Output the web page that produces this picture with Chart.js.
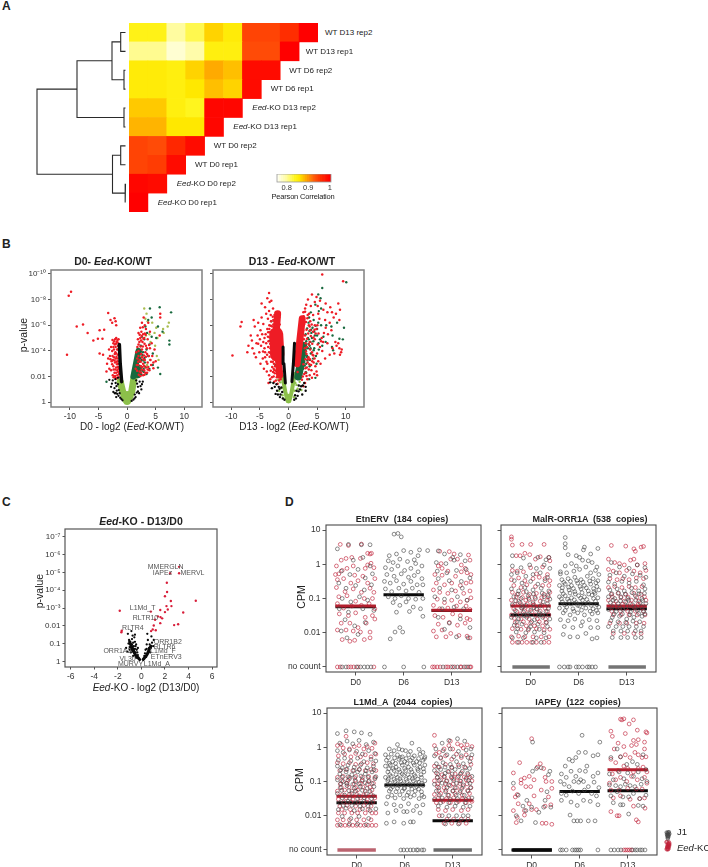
<!DOCTYPE html>
<html lang="en">
<head>
<meta charset="UTF-8">
<title>Eed-KO repeat expression</title>
<style>
  body { margin: 0; background: #fff; font-family: 'Liberation Sans', Arial, sans-serif; color: #222; }
  #page { position: relative; width: 708px; height: 867px; overflow: hidden; }
  canvas { position: absolute; }
  .t { position: absolute; white-space: pre; line-height: 1; transform: translate(-50%, -50%); }
  .l { position: absolute; white-space: pre; line-height: 1; transform: translateY(-50%); }
  .v { position: absolute; white-space: pre; line-height: 1; transform: translate(-50%, -50%) rotate(-90deg); }
  .b { font-weight: bold; }
</style>
</head>
<body>
<div id="page"></div>
<script src="https://cdn.jsdelivr.net/npm/chart.js"></script>
<script>
// ---------- panel A
const colNames = ['KO D0 r1', 'KO D0 r2', 'WT D0 r1', 'WT D0 r2', 'KO D13 r1', 'KO D13 r2', 'WT D6 r1', 'WT D6 r2', 'WT D13 r1', 'WT D13 r2'];
const corrRows = [
  [.845, .845, .80, .825, .87, .855, .945, .945, .96, 1],
  [.805, .805, .775, .795, .85, .85, .94, .94, 1],
  [.855, .855, .85, .87, .89, .88, .99, .99],
  [.855, .855, .85, .86, .88, .87, .99],
  [.875, .875, .85, .84, .995, .995],
  [.885, .885, .86, .86, .995],
  [.945, .94, .965, .99],
  [.945, .95, .99],
  [.995, .99],
  [1]
];
const rowLabels = ['WT D13 rep2', 'WT D13 rep1', 'WT D6 rep2', 'WT D6 rep1', '<i>Eed</i>-KO D13 rep2', '<i>Eed</i>-KO D13 rep1', 'WT D0 rep2', 'WT D0 rep1', '<i>Eed</i>-KO D0 rep2', '<i>Eed</i>-KO D0 rep1'];
const dendroBranches = [
  [3.5, .5, 8.3, .5, 8.3, 1.5, 3.5, 1.5],
  [3.5, 2.5, 5, 2.5, 5, 3.5, 3.5, 3.5],
  [8.3, 1, 17, 1, 17, 3, 5, 3],
  [3.5, 4.5, 5, 4.5, 5, 5.5, 3.5, 5.5],
  [17, 2, 52, 2, 52, 5, 5, 5],
  [3.5, 6.5, 8.3, 6.5, 8.3, 7.5, 3.5, 7.5],
  [3.5, 8.5, 4, 8.5, 4, 9.5, 3.5, 9.5],
  [8.3, 7, 16.5, 7, 16.5, 9, 4, 9],
  [52, 3.5, 92, 3.5, 92, 8, 16.5, 8]
];
const colourbarSteps = [.76, .77, .78, .79, .80, .81, .82, .83, .84, .85, .86, .87, .88, .89, .90, .91, .92, .93, .94, .95, .96, .97, .98, .99, 1];

// ---------- panel B (log2 fold change, -log10 p)
const volTicksX = [-10, -5, 0, 5, 10];
const volTicksY = [0, 2, 4, 6, 8, 10];
const volTickNames = ['1', '0.01', '10⁻⁴', '10⁻⁶', '10⁻⁸', '10⁻¹⁰'];
const b1Red = [-9.8,8.6,-10.2,8.3,-8.8,5.9,-7.7,6.05,-6.9,5.4,-5.9,4.8,-4.8,5.6,-4,5.65,-5.1,4.95,-4.3,4.95,-10.5,3.7,-4.8,3.8,-4.2,3.7,-3.3,6.95,-2.9,6.4,-2.2,6.55,-2,6.3,-1.9,6,-2.6,6.2,
 -1.5,4.9,-1.8,4.7,-2.1,4.9,-2.4,4.6,-2.8,4.3,-2,4.3,-1.6,4.4,-2.6,4,-3,3.6,-2.3,3.5,-1.9,3.8,-1.7,3.4,-3.3,3.4,-2.7,3.2,-2.1,3.1,-1.6,3,-3.5,3,-2.4,2.8,-1.9,2.7,-1.5,2.6,-2.8,2.5,-2.2,2.3,-1.7,2.1,-2.5,2.1,-2,1.9,-3.1,2.6,-1.4,2.2,-2.3,4.1,-2,3.4,-1.7,2.5,
 -1.7,4.85,-1.95,4.55,-2.25,4.75,-2.55,4.85,-1.75,4.1,-2.15,3.75,-2.45,3.3,-1.85,3.15,-2.6,2.95,-2.05,2.55,-1.55,2.35,-2.35,1.95,-1.85,1.85,-2.9,3.35,-3.15,4.1,-3.6,2.4,-1.6,3.7,-2.4,4.3,
 -1.65,4.65,-1.9,5,-2.15,4.5,-1.55,4.1,-1.85,3.55,-2.2,3.25,-1.6,2.75,-1.9,2.3,-2.35,2.55,-1.75,2.95,-2.05,3.9,-2.55,3.6,-1.65,3.2,-2.1,2.05,-1.5,1.95,
 2.9,6.6,2.6,6.2,2.3,5.8,3.1,6,2,5.4,2.5,5.5,3.3,5.7,3.7,6.2,4,5.5,2.8,5.3,1.9,4.9,2.3,5,3,5,3.6,4.9,4.3,4.6,5.8,6.9,5.8,6.6,5.7,5.2,2,4.5,2.7,4.7,3.3,4.4,4,4.2,4.8,4.1,2,4,2.6,4.1,3.2,3.9,3.8,3.6,4.4,3.6,5,3.2,2.6,3.5,3.1,3.3,3.6,3.1,4.2,2.9,2.2,3.3,2.8,3,3.3,2.7,3.9,2.5,1.8,3.4,2.4,2.8,3,2.5,3.5,2.3,1.7,2.9,2.2,2.4,2.8,2.1,1.5,2.6,1.6,3.9,2,3.6,1.8,4.3,2.5,2.3,4.6,3.1,
 2.2,5.25,2.45,4.8,2.75,5.85,3.05,4.55,3.45,4.2,2.95,3.65,3.5,3.75,2.4,3.15,3,2.85,3.7,2.75,4.1,3.3,2.55,2.55,3.2,2.3,2.05,2.15,1.9,2.9,2.75,4.35,3.25,5.25,3.85,4.45,
 2.15,4.7,2.35,4.35,2.55,5.15,2.85,4.95,3.1,5.35,2.45,3.75,2.85,3.35,3.3,3.55,3.6,2.55,2.7,2.75,2.35,2.05,3.05,2.15,1.75,2.45,1.95,3.15,4.6,2.65];
const b1DarkGreen = [5.7,7.4,4,7.3,3.7,6.4,4.3,6.6,7.7,7,7.4,4.8,7.4,4.5,6.2,5.5,5.4,5.9,3.2,5.9,3.5,5.4,4.3,5.1,5.1,5,3,4.9,2.6,5.1,3.9,4.5,2.4,4.4,3.4,4.1,4.5,3.8,2.8,3.9,3.7,3.6,5.4,2.7,2.5,3.3,3.1,3.1,3.9,2.6,4.5,2.9,2.3,2.8,2.9,2.6,3.4,2.2,5.8,2.2,-3.6,1.6,2.65,3.7,3.05,3.45,2.45,3.95,2.95,2.35,2.5,2.15,2.15,3.15,3.2,2.75,2.1,2.55,2.35,3.45,2.7,2.45,2.25,3.75,1.95,3.55,2.85,3.25];
const b1Olive = [3,7.3,3.4,6.9,3.2,6.5,3.6,6.3,4.4,6.2,5.1,5.8,4.8,5.4,6.3,5.7,7.1,5.9,7.3,6.2,6.4,5.4,5.3,5,3.9,5.3,3.3,5.2,4.9,4.4,4.1,4.7,5.2,3.6,4,3.3,3.5,2.9,2.7,3.6,2.2,4.1,5.5,3.3];
const b1Black = [-2.5,1.7,-2.8,1.2,-2.2,1.1,-2,1.5,-2.4,.8,-1.8,.9,-1.6,1.4,-1.5,.5,-1.9,.4,-1.2,.35,-1.3,.7,-1,.25,-.8,.15,-1.6,1.9,2.6,1.4,2.2,1.6,2.5,1,1.9,1.2,2.1,.7,1.7,.75,1.5,.4,1.3,.3,1.1,.2,1.6,1.7,.8,.1,-3.1,1.75,-2.15,.7,-2.65,1.45,-1.85,1.25,-1.7,.65,-1.45,.95,-1.95,.7,2.35,1.25,1.9,.85,1.75,1.45,1.35,.6,2.75,1.6,-2.05,1.8];
const b1BlackBands = [[-.95,1.6,-1.2,3,-1.35,4.5]];
const b1LightBands = [[-.2,.15,-.75,.8,-1.2,1.6], [.2,.15,.8,.8,1.2,1.9], [0,.05,0,.6]];
const b1GreenBands = [[1.1,2,1.55,3,2,4], [1.9,2.1,2.1,2.7]];
const b2Red = [-3.4,8.5,-9.8,3.65,-8.4,5.9,-8.2,6.25,-4.7,7.7,-4.1,7.4,-3.7,8.1,-3.3,7.8,-3,7.9,-2.7,7.3,-2.2,7,-6.1,6.4,-5.9,5.9,-5.3,6.2,-6.6,5.2,-6.4,4.8,-7,4.4,-7.2,3.9,-6.3,4.2,-6,3.8,-5.6,4.6,-5.4,5.2,-5.7,3.5,-5.1,3.9,-4.9,5.6,-4.7,6.6,-4.5,3.4,-4.8,4.4,-4.4,4.7,-4.4,6.1,-3.9,6.9,-3.6,6.5,-3.4,7.1,-4.9,3,-4.3,2.6,-4.1,3.5,-3.8,2.4,-3.7,3,-3.4,2.1,-3.4,3.9,-3.1,6.8,-2.6,2,-2.9,1.95,-2.2,1.7,-2.5,1.6,-4,5.3,-3.7,5.7,-4.2,4.2,-5,4.9,-4.6,5.3,-2,6.5,-1.8,5.8,-1.6,5.2,-1.5,4.6,-1.5,4,-1.8,6.2,-3.2,1.8,-3.5,1.5,-1.9,1.45,-1.4,1.8,
 -3.05,6.3,-2.75,6.65,-2.45,6.3,-3.35,6,-3.6,5.1,-3.25,5.45,-3.9,4.6,-3.55,4.3,-3.3,3.55,-3.05,3.15,-2.85,2.75,-3.1,2.45,-2.7,2.35,-2.4,2.25,-2.95,4.75,-3.15,4.2,-3.75,3.7,-4.45,3.95,-4.2,5,-5.3,4.55,-2.65,6.05,-2.3,6.6,-2,2.25,-1.65,1.7,-1.8,2.2,-2.35,2.8,-2.55,3,-1.35,2.4,-1.25,3,-1.3,3.55,
 -3.35,5.7,-3.1,5.95,-2.85,5.9,-3.5,4.75,-3.2,4.55,-3.3,5.05,-3.05,5.2,-3.05,4.35,-2.95,3.95,-3.2,3.85,-2.85,3.5,-3,3.7,-2.75,3.15,-2.55,3.35,-2.6,2.6,-2.45,2.5,-2.2,2.45,-2.05,1.95,-1.2,3.85,-1.25,4.4,-1.35,5.1,-1.5,5.65,-1.55,6.05,-1.65,6.6,-2.45,6.8,-2.65,6.4,-3.55,5.45,-4.1,3.9,-3.85,3.15,
 5.9,9.95,9.55,9.43,4.1,8.4,4.9,8.2,4.6,7.8,5.1,7.5,3.4,8,3.1,7.6,2.9,7.3,2.6,7,3.9,7.5,5.5,7.9,6.5,7.7,7.3,7.4,7.6,7,8.7,7.7,9,7.2,8.3,6.9,6.1,7.2,6.8,7,3.6,6.9,2.3,6.6,4.3,6.8,7.9,6.6,8.9,6.4,7.2,6.2,6.4,6.4,5.4,6.5,5.2,6.9,3.8,6.3,8.2,4.7,8.4,4.4,8.7,4.6,8.9,4.2,9.3,4.1,7.7,4.2,7.2,3.7,8,3.8,9.2,3.9,9,3.7,6.8,4.6,6.2,5.4,6.9,5.3,7.5,5.6,5.9,4,5.5,4.3,6.4,3.4,5,3.8,5.2,3.2,5.6,3,4.7,2.8,4.9,2.4,5,2.1,4.4,3.1,4.5,2.2,4,2.5,4.1,1.9,3.7,2.1,3.3,1.8,3.2,2.7,2.9,1.5,3,2.3,2.6,1.25,2.5,2,3.5,3.5,3.2,4.3,2.9,5.2,2.7,4.9,2.2,5.9,1.9,5.3,3.7,4.7,4.1,3.9,4.6,4.9,4.9,5.7,4.3,5.5,3.8,5.6,4.6,6,5.8,5,6.5,5.8,
 3.3,6.55,3.05,6.25,2.75,6.1,2.55,5.6,3.55,6,4.05,6.05,3.15,5.65,3.45,5.35,3.9,5.15,4.35,5.05,4.75,5.35,5.25,5.35,3.25,4.95,3.55,4.5,4.15,4.55,3,4.6,2.85,4.2,3.15,3.75,3.75,3.35,3.35,3.1,2.95,2.65,4.15,3.2,4.35,3.65,2.75,2.2,3.55,2.55,3.95,2.9,2.95,3.35,5.7,4.75,5.1,4.5,6.05,4.7,
 2.9,7.05,2.65,6.7,3.35,6.8,2.05,5.75,2.35,5.45,3.7,5.9,4.55,5.65,5.05,6,3.05,3.95,3.4,3.35,3.65,2.95,2.6,2.95,3.15,2.05,2.35,1.75,3.8,4.1,4.2,3.7,4.55,3.4,1.75,3,1.55,3.35,1.6,2.35];
const b2DarkGreen = [10.1,9.35,5.9,8.9,5.2,8.4,5.6,8.1,5.7,7.3,5.3,7.1,8.5,6.2,7.5,5.9,7.7,5.2,9.7,5.8,9.5,4.9,8.9,4.95,7.6,4.3,7.8,4.05,4.7,7.6,3.9,7,4.4,6.4,3.5,6.2,5.7,6,6.6,6,5,5.7,3,5.3,4,5.4,4.6,5.2,6.1,5.1,3.4,5,5.5,4.9,6.5,4.7,2.7,4.5,3.7,4.4,4.5,4.2,5.3,4.1,3,4,3.9,3.8,4.8,3.6,5.9,4.4,3.3,3.5,4.3,3.4,2.6,3.4,3.1,3,3.7,2.8,4.7,1.9,4.9,3,3.1,2.3,3.6,1.8,-1.5,3.5,-2.1,4.9,-2.7,5.6,-3,6.3,-1.2,2.4,-1.8,2.8,-2.4,4.1,
 3.25,5.75,3.65,5.55,4.2,5.8,4.75,5.95,5.2,6.2,3.1,4.75,3.55,4.9,4.1,5,4.35,4.75,5,5.2,5.25,4.6,2.9,3.7,3.4,4.2,3.85,4.2,4.4,4.05,2.75,3.15,3.3,3.25,3.75,3.3,-2.3,2.9,-2.5,5.2,-3.3,4.8,
 2.85,2.85,3,2.35,2.55,2.6,3.25,3.6,2.95,4.35,3.5,4.55,3.85,4.7,4.5,5.5,3.95,5.65,3.6,6.6];
const b2Black = [-3.2,1.55,-2.9,1.1,-2.4,1.2,-2,.9,-1.7,1.2,-1.4,.6,-1,.3,-1.1,.8,-.7,.2,-1.5,.4,3,.9,2.4,.6,2,1,1.6,.5,1.3,.3,1.4,.9,1,.2,3,1.2,2.5,1.3,-2.1,1.4,-2.65,1.5,-1.85,.6,-1.25,1.15,-1.55,1.05,-2.25,.65,1.75,.85,2.2,1.25,1.15,.55,1.8,1.3,2.75,1.5];
const b2Light = [-1.45,1.55,-1.2,1.1,-1.65,.9,-1.05,.55,-1.8,1.75,-1.3,2.4,1.4,1.35,1.6,1.05,1.2,1.5,1.95,1.6,1.45,2.2,1.05,.9,-1.5,2.1,-.9,.3,.95,.4,2.25,.95];
const b2BlackBands = [[-.55,1.5,-.8,3,-.95,4.3], [.6,1.6,.85,3,1.05,4.6]];
const b2LightBands = [[-.15,.1,-.55,.8,-.85,1.5,-1,2], [.15,.1,.55,.8,.85,1.6,1,2.2], [0,.05,0,.5]];
const b2RedBig = [[-1.95,3.7,-2.15,5.3]];
const b2RedMid = [[-1.55,2.1,-1.75,3.3], [-2.15,5.5,-1.9,6.9], [1.5,3,1.9,4.5,2.4,6.5]];
const b2GreenBands = [[1.7,2,2.2,3.2,2.55,4.4]];

// ---------- panel C
const cTicksX = [-6, -4, -2, 0, 2, 4, 6];
const cTicksY = [0, 1, 2, 3, 4, 5, 6, 7];
const cTickNames = ['1', '0.1', '0.01', '10⁻³', '10⁻⁴', '10⁻⁵', '10⁻⁶', '10⁻⁷'];
const cRed = [3.2,5.32,3.2,4.96,2.44,4.96,2.16,4.42,2.18,3.9,2,3.66,2.5,3.4,4.62,3.41,2.55,3.11,2.13,3.11,2.24,2.92,1.6,2.89,2,2.77,3.55,2.75,1.4,2.53,1.62,2.49,1.76,2.42,1.16,2.34,1.6,2.15,2.78,2.04,3.12,2.09,1.05,2.02,.96,1.79,.82,1.7,1.22,1.75,.8,2.8,-1.84,2.85,-1.67,1.72,-1.7,1.64];
const cBlack = [-1.15,1.55,-.85,1.7,-.75,1.45,-1.05,1.2,-.8,1.25,-.6,1.35,-1.1,1,-.95,.95,-.7,1.05,-.55,1.1,-1,.8,-.75,.8,-.5,.85,-.85,.65,-.65,.6,-.4,.65,-.9,.5,-.6,.45,-.3,.35,-.7,.3,-.45,.2,-.55,1.5,-1.3,.75,-1.2,.55,.5,1.55,.85,1.4,.55,1.2,.9,1.05,.7,.95,.45,.95,.8,.75,.35,.65,.6,.55,.75,.5,.25,.3,.4,.25,1,.85,1.05,1.2,-.95,1.1,-1,.65,-.8,.95,-.65,.85,-.9,.75,-.55,.7,-.75,.55,-.5,.5,-.45,.95,-.35,.5,-.25,.2,-.3,.75,.3,.45,.5,.4,.45,.7,.65,.75,.2,.15];
const cBlackBands = [[-.15,.1,-.5,.35,-.85,.85,-1,1.1], [.15,.1,.45,.35,.8,.85]];
const cLabelNames = ['MMERGLN', 'IAPEz', 'MERVL', 'L1Md_T', 'RLTR10', 'RLTR4', 'ORR1B2', 'RLTR6', 'L1Md_F', 'ETnERV3', 'ORR1A2', 'VL30', 'MURVY', 'L1Md_A'];
const cLabelX = [.54, .96, 3.32, -.99, -.74, -1.64, 1.05, 1.05, .74, .79, -3.23, -1.87, -1.99, .2];
const cLabelY = [5.32, 4.96, 4.96, 3, 2.42, 1.85, 1.09, .81, .55, .23, .55, .15, -.15, -.13];

// ---------- panel D (x: day slot 1-3 with jitter, y: log10 CPM, -3 = no count)
const dTicksX = [1, 2, 3];
const dayNames = ['D0', 'D6', 'D13'];
const dTicksY = [-3, -2, -1, 0, 1];
const dTickNames = ['no count', '0.01', '0.1', '1', '10'];
const noCount = -3;

const etnJ1 = [.62,.45,.85,.58,1.12,.57,1.3,.57,.95,.12,1.15,.2,1.3,-.05,.7,-.2,.88,-.3,1.05,-.15,1.2,-.4,1.35,-.28,.65,-.55,.8,-.7,1,-.62,1.18,-.75,1.33,-.6,.72,-1,.9,-1.1,1.08,-.95,1.25,-1.05,.66,-1.3,.85,-1.4,1.15,-1.3,1.38,-1.35,.78,-1.62,.98,-1.8,1.2,-1.7,.7,-1.95,1.05,-2.05,.82,-2.15,
 1.8,.88,1.88,.9,1.95,.8,1.7,.25,1.85,.3,2,.4,2.15,.35,2.33,.42,2.3,.25,2.22,.13,1.68,.1,1.78,.05,1.92,.15,2.08,.08,2.25,.02,2.38,-.05,1.62,-.1,1.75,-.15,1.88,-.05,2.02,-.18,2.15,-.12,2.3,-.22,1.65,-.3,1.8,-.35,1.95,-.28,2.1,-.38,2.22,-.33,2.38,-.42,1.6,-.5,1.72,-.55,1.85,-.48,2,-.58,2.15,-.5,2.28,-.6,2.4,-.6,1.62,-.72,1.75,-.8,1.9,-.7,2.05,-.78,2.18,-.7,2.32,-.82,1.68,-.95,1.82,-1,1.95,-.92,2.1,-1,2.25,-1.02,2.4,-1,1.78,-1.12,1.92,-1.2,2.05,-1.1,2.2,-1.25,2.35,-1.3,1.85,-1.4,2.12,-1.38,2.4,-1.52,1.92,-1.85,1.82,-1.98,1.98,-1.98,1.72,-2.18,2.5,.4,
 2.72,.39,2.85,.3,3.02,.2,3.18,.28,2.68,.05,2.88,.02,3.05,.12,3.28,.1,2.7,-.2,2.9,-.25,3.1,-.18,3.3,-.15,2.72,-.42,2.95,-.48,3.2,-.5,3.38,-.4,2.75,-.7,3,-.75,3.22,-.7,2.65,-.95,2.85,-1.02,3.12,-.95,3.32,-1.05,2.8,-1.3,3.05,-1.25,3.25,-1.3,2.72,-1.55,2.95,-1.72,3.18,-1.6,3.38,-1.85,2.85,-1.9,3.1,-2.12,3.34,-2.15];
const etnKo = [.68,.58,.85,.55,1.12,.59,1.3,.3,1.25,.32,1.33,.32,.92,.2,.72,-.18,.6,-.05,.65,-.28,.82,-.12,.98,-.32,1.15,-.35,1.32,.03,1.38,-.1,1.2,-.12,.58,-.3,.7,.12,.8,.17,.95,-.05,1.1,.17,1.25,-.02,.62,-.45,.75,-.42,.9,-.55,1.05,-.48,1.25,-.55,1.4,-.42,.6,-.68,.78,-.8,.95,-.72,1.12,-.82,1.3,-.7,1.38,-.82,.65,-.95,.82,-.92,1,-1.08,1.18,-1,1.35,-1,.62,-1.15,.75,-1.28,.92,-1.22,1.12,-1.2,1.28,-1.15,1.4,-1.3,.66,-1.45,.85,-1.5,1,-1.42,1.2,-1.55,1.35,-1.5,.7,-1.72,.88,-1.72,1.05,-1.85,1.22,-1.72,1.4,-1.6,.62,-1.92,.8,-1.92,.95,-1.95,1.1,-1.98,1.3,-1.98,.72,-2.2,.88,-2.25,.98,-2.22,1.18,-2.2,1.3,-2.15,
 2.75,.38,2.78,.02,2.95,.37,3.05,.3,3.12,.15,2.72,-.05,2.8,-.12,2.98,.15,3.2,-.02,3.28,-.12,3.35,.27,3.38,.12,2.65,-.3,2.8,-.32,2.92,-.2,3.08,-.35,3.2,-.22,3.32,-.25,3.4,-.3,2.68,-.55,2.85,-.6,3,-.55,3.18,-.62,3.3,-.55,3.4,-.52,2.62,-.75,2.75,-.82,2.92,-.85,3.08,-.78,3.25,-.85,3.38,-.78,2.7,-1.02,2.85,-1.12,3,-1.05,3.18,-1.1,3.32,-1.05,3.4,-.98,2.62,-1.2,2.75,-1.3,2.92,-1.28,3.1,-1.22,3.3,-1.22,3.38,-1.32,2.65,-1.5,2.82,-1.55,3.02,-1.45,3.18,-1.5,3.32,-1.58,2.72,-1.75,2.95,-1.7,3.12,-1.78,3.28,-1.72,3.38,-1.62,2.62,-1.95,2.8,-1.92,2.98,-2.02,3.15,-2.08,3.32,-2.1,2.68,-2.12,2.88,-2.12,3.38,-2.15];
const etnJ1None = [.72,.8,1.02,1.1,1.18,1.25,1.32,1.6,2,2.42,2.82,3.02,3.12,3.26,3.34];
const etnKoNone = [.62,.68,.85,.9,.96,1.05,1.38,2.6,2.64,2.7,2.76,2.88,2.92,2.98,3.06,3.18,3.2,3.3,3.38,3.4];
const etnMed = [[1, -1.24, -1.22], [2, -.89, null], [3, -1.35, -1.34]];

const malrJ1 = [.62,.25,.85,.18,1.15,.2,1.32,.13,1.38,.2,.62,-.05,.8,-.1,.98,-.02,1.12,-.12,1.28,-.02,1.4,-.12,.6,-.3,.72,-.25,.9,-.35,1.05,-.3,1.2,-.25,1.35,-.38,.66,-.48,.82,-.55,1,-.5,1.15,-.58,1.3,-.48,.6,-.72,.75,-.78,.88,-.68,1.05,-.75,1.22,-.7,1.38,-.78,.65,-.95,.8,-1,.95,-.92,1.1,-1,1.28,-.95,1.4,-1.02,.62,-1.18,.78,-1.12,.9,-1.2,1.05,-1.15,1.2,-1.22,1.35,-1.15,.68,-1.35,.85,-1.4,1,-1.35,1.18,-1.42,1.32,-1.38,.6,-1.55,.75,-1.6,.92,-1.55,1.08,-1.62,1.25,-1.55,1.4,-1.6,.66,-1.78,.82,-1.75,1,-1.82,1.15,-1.75,1.35,-1.82,.7,-1.98,.9,-2,1.08,-1.98,1.28,-2,.62,-2.15,.85,-2.15,1.12,-2.15,1.32,-2.15,.75,-2.28,1.05,-2.28,1.22,-2.28,
 .69,-1.07,.84,-1.24,.97,-1.03,1.13,-1.31,1.26,-1.1,.67,-1.47,.81,-1.28,.94,-1.46,1.07,-1.27,1.22,-1.47,1.37,-1.29,.72,-1.68,.87,-1.5,1.02,-1.68,1.17,-1.49,1.33,-1.7,.74,-.87,.91,-.8,1.06,-.87,1.24,-.84,1.36,-.9,.73,-1.88,.96,-1.88,1.18,-1.9,
 1.72,.78,1.72,.6,1.72,.48,2.1,.42,2.12,.5,2.25,.3,2.4,.46,1.78,.28,1.95,.25,1.62,-.22,1.75,-.25,1.85,.02,1.95,-.05,2.08,.12,2.2,.1,2.28,.05,2.38,-.08,2.02,.2,1.62,-.28,1.72,-.05,1.9,-.2,2.02,-.15,2.15,-.08,2.25,-.25,2.35,-.18,2.42,-.3,1.65,-.45,1.78,-.42,1.92,-.38,2.05,-.45,2.18,-.35,2.3,-.42,2.4,-.48,1.6,-.62,1.72,-.58,1.85,-.62,1.98,-.55,2.12,-.62,2.25,-.58,2.38,-.65,1.65,-.78,1.8,-.75,1.92,-.8,2.05,-.72,2.2,-.78,2.32,-.8,2.42,-.75,1.6,-.95,1.72,-.92,1.85,-.98,2,-.92,2.12,-.95,2.28,-.9,2.4,-.98,1.66,-1.1,1.8,-1.08,1.95,-1.12,2.08,-1.05,2.2,-1.12,2.35,-1.08,1.6,-1.28,1.75,-1.25,1.88,-1.3,2.02,-1.22,2.15,-1.28,2.3,-1.3,2.42,-1.25,1.68,-1.42,1.82,-1.48,1.98,-1.42,2.12,-1.48,2.28,-1.45,2.4,-1.42,1.62,-1.62,1.78,-1.65,1.92,-1.6,2.08,-1.68,2.22,-1.62,2.38,-1.65,1.7,-1.82,1.88,-1.85,2.05,-1.8,2.25,-1.85,2.4,-1.85,1.68,-2.05,1.82,-2.12,1.98,-2.12,2.15,-2.02,2.28,-2.18,2.38,-2.15,
 1.69,-.53,1.83,-.5,1.96,-.48,2.09,-.52,2.23,-.49,2.36,-.54,1.66,-.69,1.79,-.67,1.89,-.71,2.03,-.65,2.16,-.69,2.31,-.71,1.68,-.86,1.82,-.84,1.93,-.87,2.07,-.83,2.21,-.87,2.34,-.85,1.64,-1.01,1.77,-1.02,1.91,-1.04,2.04,-.99,2.17,-1.03,2.31,-1,1.71,-1.19,1.84,-1.16,1.98,-1.2,2.11,-1.17,2.26,-1.2,2.38,-1.18,1.72,-1.35,1.9,-1.37,2.06,-1.34,2.24,-1.37,2.37,-1.35,
 2.68,.05,2.85,-.08,3.05,-.12,3.22,-.02,3.38,-.1,2.65,-.32,2.78,-.25,2.95,-.35,3.12,-.28,3.28,-.32,3.4,-.38,2.62,-.52,2.75,-.58,2.9,-.5,3.05,-.55,3.2,-.5,3.35,-.6,2.65,-.75,2.8,-.72,2.95,-.78,3.1,-.7,3.25,-.78,3.38,-.72,2.62,-.95,2.75,-1,2.88,-.95,3.02,-1,3.18,-.92,3.32,-1,2.66,-1.12,2.82,-1.15,2.98,-1.1,3.12,-1.18,3.28,-1.12,3.4,-1.15,2.62,-1.32,2.78,-1.38,2.92,-1.32,3.08,-1.4,3.22,-1.35,3.35,-1.38,2.7,-1.55,2.85,-1.52,3,-1.6,3.15,-1.55,3.32,-1.52,2.62,-1.82,2.78,-1.82,2.92,-1.82,3.05,-1.82,3.2,-1.82,3.35,-1.82,2.72,-1.95,2.88,-1.95,3.02,-1.95,3.18,-1.95,3.3,-1.95,2.7,-2.14,2.88,-2.14,3.02,-2.14,3.18,-2.14,3.3,-2.14,
 2.69,-.86,2.83,-.84,2.97,-.87,3.11,-.83,3.26,-.86,3.37,-.85,2.72,-1.05,2.87,-1.07,3.04,-1.05,3.19,-1.05,3.33,-1.06,2.71,-1.24,2.86,-1.25,3.01,-1.22,3.17,-1.26,3.31,-1.24,2.74,-1.45,2.91,-1.45,3.07,-1.47,3.25,-1.44,3.38,-1.45,2.67,-1.65,2.82,-1.68,2.98,-1.7,3.13,-1.66,3.27,-1.68];
const malrKo = [.6,.8,.6,.73,.62,.56,.82,.58,1,.58,1.28,.58,.78,.25,.7,.25,.88,.32,.98,.28,1.1,.15,1.2,.22,1.38,.2,1.4,.1,.62,-.18,.72,-.2,.85,-.22,1,-.1,1.12,-.28,1.25,-.08,1.35,-.3,.6,-.45,.75,-.4,.88,-.48,1.05,-.42,1.18,-.38,1.3,-.42,1.4,-.48,.65,-.62,.8,-.68,.92,-.6,1.1,-.65,1.25,-.62,1.38,-.62,.62,-.82,.72,-.88,.85,-.82,.98,-.88,1.12,-.85,1.28,-.88,1.4,-.82,.6,-1.05,.75,-1.08,.9,-1.05,1.05,-1.1,1.2,-1.08,1.35,-1.05,.65,-1.3,.82,-1.28,.95,-1.32,1.12,-1.3,1.3,-1.28,.6,-1.48,.78,-1.45,.92,-1.5,1.1,-1.48,1.25,-1.5,1.38,-1.48,.68,-1.7,.85,-1.68,1,-1.72,1.18,-1.68,1.32,-1.7,.62,-1.88,.8,-1.9,.95,-1.92,1.12,-1.88,1.28,-1.92,1.4,-1.9,.6,-2.12,.75,-2.1,.88,-2.12,1.05,-2.12,1.22,-2.12,1.38,-2.12,.62,-2.28,.72,-2.28,.82,-2.28,.92,-2.28,1.02,-2.28,1.12,-2.28,1.28,-2.28,1.38,-2.28,
 .7,-.95,.83,-.97,.96,-.99,1.09,-.96,1.23,-.97,1.37,-.95,.67,-1.17,.81,-1.18,.93,-1.16,1.07,-1.19,1.24,-1.2,.71,-1.38,.87,-1.36,1.03,-1.39,1.2,-1.37,1.35,-1.38,.66,-1.58,.8,-1.6,.97,-1.6,1.14,-1.6,1.31,-1.6,.72,-1.8,.91,-1.8,1.08,-1.8,1.25,-1.8,
 2.68,.55,2.98,.53,3.15,.45,3.18,.38,3.15,.15,3.3,.5,3.35,.52,2.62,.15,2.75,.05,2.85,.02,2.95,-.02,3.08,.12,3.22,-.02,3.38,.02,2.62,-.15,2.72,-.2,2.85,-.25,3,-.18,3.15,-.2,3.28,-.25,3.4,-.18,2.65,-.42,2.8,-.45,2.92,-.42,3.05,-.45,3.2,-.4,3.35,-.42,2.62,-.68,2.75,-.65,2.9,-.68,3.05,-.65,3.18,-.68,3.32,-.65,2.68,-.88,2.82,-.85,2.98,-.88,3.15,-.85,3.3,-.88,2.62,-1.05,2.78,-1.08,2.95,-1.08,3.1,-1.05,3.25,-1.08,3.4,-1.05,2.65,-1.25,2.8,-1.25,2.98,-1.28,3.15,-1.25,3.32,-1.28,2.72,-1.48,2.88,-1.48,3.05,-1.48,3.22,-1.48,3.38,-1.48,2.65,-1.72,2.85,-1.72,3,-1.72,3.2,-1.72,3.36,-1.72,2.72,-2.02,2.95,-2.02,3.15,-2.02,3.3,-2.02,
 2.7,-.95,2.88,-.97,3.03,-.96,3.21,-.97,3.37,-.95,2.73,-1.16,2.91,-1.17,3.08,-1.16,3.24,-1.17,2.69,-1.37,2.87,-1.37,3.02,-1.37,3.18,-1.37,3.35,-1.37];
const malrJ1None = [1.6,1.7,1.78,1.82,1.95,2,2.08,2.18,2.22,2.28,2.35];
const malrKoNone = [];
const malrJ1Run = [.62, 1.4, 2.62, 3.4];
const malrMed = [[1, -1.48, -1.22], [2, -1.15, null], [3, -1.3, -1.22]];

const l1J1 = [.6,.4,.78,.48,.95,.45,1.1,.42,1.28,.38,.65,.12,.8,.18,.92,.1,1.05,.2,1.2,.08,1.35,.15,.6,-.1,.72,-.15,.85,-.08,1,-.12,1.12,-.2,1.25,-.1,1.38,-.18,.62,-.38,.75,-.32,.88,-.4,1.02,-.32,1.15,-.42,1.3,-.35,1.4,-.4,.6,-.55,.7,-.6,.82,-.52,.95,-.58,1.08,-.52,1.22,-.6,1.35,-.55,.65,-.78,.78,-.72,.9,-.8,1.02,-.72,1.18,-.78,1.32,-.72,.6,-.95,.72,-1,.85,-.92,.98,-1,1.12,-.95,1.25,-1,1.38,-.92,.66,-1.18,.8,-1.12,.95,-1.2,1.08,-1.15,1.22,-1.2,1.36,-1.15,.6,-1.35,.75,-1.4,.9,-1.35,1.05,-1.42,1.2,-1.36,1.35,-1.42,.65,-1.62,.82,-1.58,.98,-1.62,1.15,-1.58,1.3,-1.62,.62,-1.82,.78,-1.78,.95,-1.85,1.12,-1.8,1.28,-1.85,1.4,-1.8,.7,-2.02,.88,-2.08,1.05,-2.02,1.25,-2.08,.65,-2.26,.85,-2.24,1.02,-2.24,1.2,-2.26,
 .67,-.66,.8,-.64,.94,-.68,1.06,-.65,1.2,-.69,1.36,-.66,.7,-.87,.82,-.86,.96,-.89,1.09,-.84,1.24,-.88,1.4,-.86,.67,-1.06,.79,-1.05,.92,-1.08,1.05,-1.07,1.18,-1.04,1.32,-1.06,.69,-1.26,.84,-1.27,.98,-1.28,1.12,-1.26,1.28,-1.29,.7,-1.48,.86,-1.49,1.02,-1.5,1.16,-1.48,1.31,-1.5,.72,-1.7,.9,-1.7,1.07,-1.72,1.24,-1.72,
 1.85,.08,2.15,.12,1.95,-.08,1.68,-.05,1.78,-.1,1.88,-.05,2.02,-.1,2.12,-.12,2.3,-.06,2.38,-.15,1.6,-.22,1.72,-.2,1.85,-.22,1.95,-.28,2.08,-.22,2.2,-.25,2.32,-.2,2.42,-.28,1.62,-.38,1.75,-.42,1.88,-.35,2,-.42,2.12,-.38,2.25,-.42,2.38,-.38,1.6,-.55,1.7,-.52,1.82,-.58,1.95,-.52,2.08,-.58,2.2,-.52,2.32,-.58,2.42,-.52,1.65,-.72,1.78,-.68,1.9,-.72,2.02,-.68,2.15,-.72,2.28,-.68,2.4,-.72,1.6,-.88,1.72,-.85,1.85,-.88,1.98,-.82,2.1,-.88,2.22,-.85,2.35,-.88,1.65,-.98,1.8,-1,1.92,-.98,2.05,-1,2.18,-.98,2.3,-1.02,2.42,-.98,1.62,-1.12,1.75,-1.15,1.88,-1.12,2,-1.18,2.12,-1.12,2.25,-1.15,2.38,-1.12,1.68,-1.28,1.82,-1.3,1.95,-1.28,2.08,-1.32,2.22,-1.28,2.35,-1.3,1.65,-1.45,1.8,-1.48,1.98,-1.5,2.12,-1.45,2.3,-1.5,2.4,-1.45,1.62,-1.65,1.78,-1.68,1.92,-1.72,2.08,-1.65,2.25,-1.72,2.38,-1.68,1.65,-1.92,1.82,-1.85,1.98,-1.88,2.05,-1.88,2.18,-1.85,2.32,-1.92,1.62,-2.22,1.78,-2.18,1.98,-2.22,2.12,-2.18,2.18,-2.18,
 1.66,-.3,1.79,-.31,1.91,-.3,2.03,-.33,2.16,-.31,2.29,-.33,2.41,-.33,1.68,-.47,1.81,-.47,1.93,-.45,2.05,-.47,2.18,-.46,2.31,-.46,1.67,-.63,1.76,-.62,1.88,-.65,2,-.62,2.13,-.65,2.27,-.63,2.39,-.63,1.69,-.8,1.82,-.8,1.95,-.78,2.07,-.8,2.2,-.8,2.34,-.8,1.66,-.93,1.78,-.94,1.9,-.92,2.03,-.94,2.16,-.92,2.27,-.93,1.7,-1.05,1.85,-1.07,1.96,-1.07,2.1,-1.08,2.23,-1.06,2.35,-1.05,1.71,-1.22,1.85,-1.2,1.99,-1.21,2.15,-1.22,2.29,-1.22,1.73,-1.4,1.9,-1.39,2.05,-1.4,2.2,-1.4,2.36,-1.4,
 2.78,.12,2.92,.2,3.1,.25,3.25,.18,2.65,-.05,2.8,-.1,2.95,-.05,3.12,-.12,3.28,-.08,3.38,-.05,2.62,-.25,2.75,-.3,2.88,-.22,3.02,-.28,3.18,-.25,3.32,-.3,3.4,-.22,2.66,-.48,2.8,-.45,2.95,-.5,3.08,-.42,3.22,-.48,3.36,-.42,2.62,-.68,2.75,-.65,2.9,-.7,3.05,-.65,3.2,-.7,3.35,-.62,2.68,-.88,2.82,-.85,2.98,-.9,3.12,-.85,3.28,-.9,3.4,-.85,2.62,-1.08,2.78,-1.05,2.92,-1.1,3.08,-1.05,3.22,-1.1,3.36,-1.05,2.66,-1.28,2.85,-1.3,3,-1.28,3.15,-1.32,3.32,-1.28,2.62,-1.52,2.78,-1.48,2.95,-1.52,3.1,-1.5,3.28,-1.52,3.4,-1.48,2.7,-1.72,2.88,-1.75,3.05,-1.72,3.22,-1.75,3.36,-1.72,2.78,-2,2.92,-2,3.08,-2,3.22,-2,3.32,-2,2.85,-2.24,3.12,-2.24,
 2.7,-.58,2.84,-.58,2.98,-.6,3.13,-.57,3.27,-.6,2.69,-.78,2.84,-.76,2.99,-.78,3.16,-.78,3.31,-.76,2.72,-.97,2.87,-.99,3.02,-.97,3.17,-.99,3.33,-.97,2.71,-1.18,2.88,-1.18,3.05,-1.18,3.19,-1.2,3.37,-1.18,2.72,-1.4,2.9,-1.4,3.07,-1.4,3.24,-1.4,2.75,-1.62,2.92,-1.62,3.08,-1.62,3.26,-1.62];
const l1Ko = [.78,.32,.68,.08,.6,.05,.72,-.02,.85,-.05,.95,.02,1.05,.05,1.15,-.05,1.22,.02,1.32,-.03,1.38,.12,.62,-.25,.75,-.2,.88,-.28,.98,-.18,1.08,-.28,1.18,-.22,1.3,-.28,1.4,-.2,.6,-.45,.72,-.48,.85,-.45,.98,-.5,1.1,-.48,1.22,-.45,1.35,-.48,.65,-.68,.78,-.65,.92,-.68,1.05,-.65,1.18,-.68,1.3,-.65,1.4,-.68,.6,-.88,.72,-.85,.85,-.88,.98,-.85,1.12,-.88,1.25,-.85,1.38,-.88,.66,-1.08,.8,-1.05,.95,-1.08,1.08,-1.05,1.22,-1.08,1.35,-1.05,.6,-1.28,.75,-1.25,.9,-1.28,1.02,-1.25,1.18,-1.28,1.32,-1.25,.62,-1.52,.78,-1.48,.92,-1.52,1.08,-1.48,1.22,-1.52,1.38,-1.48,.65,-1.72,.8,-1.7,.98,-1.72,1.15,-1.7,1.3,-1.72,.62,-1.92,.75,-1.92,.9,-1.92,1.02,-1.92,1.18,-1.92,1.32,-1.92,1.4,-1.92,.6,-2.12,.72,-2.12,.85,-2.12,1,-2.12,1.15,-2.12,1.3,-2.12,.6,-2.28,.68,-2.28,.76,-2.28,.84,-2.28,.92,-2.28,1,-2.28,1.08,-2.28,1.16,-2.28,1.24,-2.28,1.32,-2.28,1.4,-2.28,
 .69,-.98,.82,-.97,.97,-.96,1.11,-.98,1.26,-.97,.68,-1.17,.84,-1.16,.98,-1.18,1.13,-1.16,1.28,-1.17,.7,-1.39,.85,-1.38,1,-1.38,1.15,-1.39,1.3,-1.38,.73,-1.6,.88,-1.6,1.03,-1.6,1.2,-1.6,1.34,-1.6,.69,-1.82,.87,-1.82,1.07,-1.82,1.24,-1.82,
 2.62,.35,2.95,.18,3.18,.05,2.62,.05,2.72,-.15,2.82,-.05,2.92,.05,3,-.05,3.1,.1,3.22,-.02,3.3,.07,3.4,.02,2.65,-.2,2.75,-.32,2.85,-.25,2.98,-.35,3.08,-.2,3.18,-.3,3.28,-.22,3.38,-.32,2.62,-.55,2.72,-.58,2.85,-.5,2.98,-.58,3.12,-.52,3.25,-.58,3.38,-.5,2.66,-.75,2.78,-.8,2.92,-.72,3.05,-.78,3.18,-.75,3.32,-.8,2.62,-.98,2.75,-.95,2.88,-.98,3.02,-.92,3.15,-.98,3.28,-.95,3.4,-.98,2.68,-1.15,2.82,-1.18,2.95,-1.12,3.08,-1.18,3.22,-1.15,3.38,-1.18,2.62,-1.38,2.75,-1.35,2.92,-1.4,3.05,-1.35,3.2,-1.4,3.35,-1.35,2.66,-1.62,2.8,-1.58,2.95,-1.62,3.12,-1.58,3.28,-1.62,3.4,-1.58,2.7,-1.82,2.85,-1.85,3,-1.82,3.18,-1.85,3.32,-1.82,2.72,-2,2.88,-2.1,3.02,-2.1,3.18,-2.1,3.32,-2.1,2.82,-2.22,2.98,-2.22,3.14,-2.22,3.28,-2.22,
 2.68,-.88,2.83,-.87,2.97,-.86,3.1,-.88,3.24,-.87,3.36,-.88,2.69,-1.07,2.85,-1.06,3.01,-1.07,3.15,-1.06,3.3,-1.07,2.71,-1.27,2.86,-1.26,3.01,-1.27,3.16,-1.27,3.31,-1.26,2.7,-1.48,2.87,-1.5,3.02,-1.48,3.2,-1.5,3.33,-1.48];
const l1J1None = [1.92,1.98,2.05,2.12,2.18,2.25,2.28,2.36,2.4];
const l1KoNoneRun = [.6, 1.4];
const l1J1NoneRun = [2.6, 3.4];
const l1Med = [[1, -1.62, -1.43], [2, -1.1, null], [3, -2.15, -1.55]];

const iapJ1 = [1.02,.15,1.1,-.62,1.2,-.6,1.02,-.7,.62,-1.05,.72,-1.4,.82,-1.72,.9,-1.55,1,-1.75,1.15,-1.9,1.28,-1.55,1.35,-.8,1.38,-.7,1.32,-1.3,1.4,-1.75,.68,-2,.78,-2.15,.88,-1.85,1.08,-2.2,1.25,-1.75,
 2.05,.35,1.7,-.55,1.78,-.35,1.85,-.4,1.92,-.3,1.98,-.15,2,-.68,2.12,-.15,2.28,-.25,2.38,-.22,2.42,.15,2.15,-.55,1.62,-.78,1.72,-.88,1.82,-.7,1.92,-.85,2.02,-.95,2.12,-.7,2.28,-.85,2.38,-.75,1.6,-1,1.68,-1.08,1.78,-1.15,1.88,-1,1.98,-1.02,2.08,-1,2.18,-1.15,2.3,-1.02,2.4,-1.18,1.62,-1.35,1.72,-1.4,1.85,-1.28,1.98,-1.35,2.1,-1.25,2.25,-1.35,2.35,-1.42,1.62,-1.55,1.82,-1.6,1.95,-1.7,2.08,-1.55,2.22,-1.58,2.38,-1.68,1.8,-1.98,1.88,-2.15,1.95,-2.15,2.02,-2.15,2.18,-2.15,2.32,-2.15,
 2.65,-.3,2.78,-.05,2.85,-.28,2.98,-.5,3.1,-.42,3.2,-.5,3.32,-.22,3.38,-.65,2.62,-.78,2.7,-.95,2.82,-.72,2.92,-.92,3,-.75,3.12,-.85,3.22,-.72,3.3,-.92,3.4,-1,2.62,-1.1,2.75,-1.12,2.85,-1.15,2.95,-1.08,3.05,-1.12,3.15,-1.15,3.28,-1.08,2.65,-1.42,2.78,-1.3,2.9,-1.45,3.02,-1.45,3.12,-1.35,3.25,-1.5,3.38,-1.4,2.7,-1.62,2.85,-1.68,2.9,-1.68,3.22,-1.7,3.32,-1.72,3.02,-1.95];
const iapKo = [.75,-.45,.62,-.75,.78,-.95,.85,-.9,.62,-1.2,.78,-1.05,.7,-1.38,.66,-1.45,1,.25,1.12,-.58,1.25,-.62,1.18,-.48,.95,-.85,1.05,-.95,1.2,-1.25,1.3,-1,1.42,-1,1.42,-1.2,1.35,-1.45,1.28,-.88,.88,-1.15,.98,-1.15,1.05,-1.42,.62,-1.85,.72,-1.65,.85,-1.85,.95,-1.65,.68,-2.2,.7,-2.05,.85,-1.98,1,-1.82,1.1,-1.82,1.22,-2.22,1.3,-2.22,1.42,-2.25,1.4,-1.68,1.28,-1.72,
 2.85,.82,2.88,.8,2.92,.83,3.03,.68,3.12,.8,2.65,.47,3.2,.5,3.38,.45,3.4,.42,2.68,.32,2.95,.4,3.12,.2,3.22,.22,3.35,.15,2.72,-.05,2.8,.12,2.92,.02,3.08,.05,3.18,.08,3.35,-.05,2.65,-.35,2.75,-.45,2.85,-.28,2.95,-.22,3.05,-.3,3.15,-.15,3.22,-.22,3.3,-.3,3.38,-.28,2.68,-.78,2.8,-.68,2.92,-.55,3,-.62,3.12,-.72,3.22,-.62,3.32,-.58,3.4,-.72,2.62,-1.05,2.75,-.95,2.85,-.88,2.98,-1,3.08,-.85,3.2,-.95,3.35,-.88,2.65,-1.25,2.82,-1.25,3,-1.2,3.18,-1.22,3.3,-1.22,3.4,-1.05,2.7,-1.48,2.85,-1.42,3.05,-1.52,3.25,-1.5,3.35,-1.48,2.65,-1.88,2.78,-2,2.82,-2,3.12,-1.72,3.18,-2.12,3.22,-2.18,3.36,-1.78];
const iapJ1None = [1.6,1.64,1.72,1.85,1.9,1.94,1.98,2.02,2.38,2.65,2.72,2.8,2.86,3.1,3.16,3.2,3.26,3.3,3.36];
const iapKoNone = [2.92,2.96,3,3.04,3.08];
const iapJ1Run = [.6, 1.42];
const iapMed = [[1, -3, null], [2, -1.29, null], [3, -1.27, -.66]];

const legendJ1 = [2,9,3.5,8,5,9,6.5,8.5,8,9.5,3,6.5,4.5,6.5,6,7,7.5,6.5,9,7.5,4,5,5.5,5,7,5,4.5,3.5,6,3.5,5,2];
const legendKo = [1.5,9,3,9.5,7,9.5,9,8,6,8,8,7,5,6.5,7,6,9,6,4,5,6,5,8,4.5,3.5,3.5,5,3.5,7,3.5,3,2,5,2,7,2,2,1,4,1,6,1];

// ---------- helpers
const FONT = "'Liberation Sans', Arial, sans-serif";
const RED = '#ee1c25', DKGREEN = '#18693e', LTGREEN = '#8cbf4a', OLIVE = '#a9bd4f', BLACK = '#0a0a0a';
const J1C = 'rgba(70,70,70,0.78)', KOC = 'rgba(190,30,55,0.78)', KOLINE = '#b21f2d';
const page = document.getElementById('page');

function heat(v) {
  const stops = [[.76, [255, 255, 240]], [.80, [255, 252, 160]], [.84, [255, 245, 30]], [.86, [255, 232, 0]], [.89, [255, 170, 0]], [.93, [255, 90, 10]], [.96, [255, 45, 0]], [1, [255, 0, 0]]];
  for (let i = 1; i < stops.length; i++) {
    if (v <= stops[i][0]) {
      const a = stops[i - 1], b = stops[i], t = (v - a[0]) / (b[0] - a[0]);
      return 'rgb(' + a[1].map((c, k) => Math.round(c + (b[1][k] - c) * t)).join(',') + ')';
    }
  }
  return 'rgb(255,0,0)';
}

function addText(cls, x, y, html, size, extra) {
  const d = document.createElement('div');
  d.className = cls;
  d.style.left = x + 'px';
  d.style.top = y + 'px';
  d.style.fontSize = size + 'px';
  if (extra) d.style.cssText += extra;
  d.innerHTML = html;
  page.appendChild(d);
}

function toPoints(flat) {
  const out = [];
  for (let i = 0; i < flat.length; i += 2) out.push({ x: flat[i], y: flat[i + 1] });
  return out;
}
function dots(flat, colour, r) {
  return { type: 'scatter', data: toPoints(flat), pointRadius: r, pointBackgroundColor: colour, pointBorderWidth: 0, showLine: false };
}
function rings(flat, colour) {
  return { type: 'scatter', data: toPoints(flat), pointRadius: 1.9, pointBackgroundColor: 'transparent', pointBorderColor: colour, pointBorderWidth: 0.8, showLine: false };
}
function band(flat, colour, width) {
  return { type: 'line', data: toPoints(flat), borderColor: colour, borderWidth: width, pointRadius: 0, borderCapStyle: 'round', borderJoinStyle: 'round', tension: 0, fill: false };
}
function noCountRow(xs) {
  const flat = [];
  xs.forEach(x => flat.push(x, noCount));
  return flat;
}

const framePlugin = {
  id: 'frame',
  afterDraw(chart, args, opts) {
    if (!opts.color) return;
    const a = chart.chartArea, c = chart.ctx;
    c.save();
    c.strokeStyle = opts.color;
    c.lineWidth = opts.width || 1;
    c.strokeRect(a.left, a.top, a.right - a.left, a.bottom - a.top);
    c.restore();
  }
};
const labelPlugin = {
  id: 'pointNames',
  afterDatasetsDraw(chart, args, opts) {
    if (!opts.names) return;
    const c = chart.ctx;
    c.save();
    c.font = '7px ' + FONT;
    c.fillStyle = '#555';
    c.textBaseline = 'middle';
    opts.names.forEach((n, i) => c.fillText(n, chart.scales.x.getPixelForValue(opts.xs[i]), chart.scales.y.getPixelForValue(opts.ys[i])));
    c.restore();
  }
};
Chart.register(framePlugin, labelPlugin);

function axis(min, max, vals, names, size, thick, tickLen, colour) {
  return {
    type: 'linear', min, max,
    afterBuildTicks: s => { s.ticks = vals.map(v => ({ value: v })); },
    afterFit: s => { if (s.isHorizontal()) s.height = thick; else s.width = thick; },
    grid: { display: true, drawOnChartArea: false, drawTicks: true, tickLength: tickLen, color: colour, lineWidth: 1 },
    border: { display: false },
    ticks: {
      autoSkip: false, maxRotation: 0, padding: 2, color: '#333', font: { size, family: FONT },
      callback: v => { const i = vals.indexOf(v); return i < 0 || !names ? '' : names[i]; }
    }
  };
}

// frame is the plotting box in page pixels; canvas gets margins round it
function plot(left, top, right, bottom, m, datasets, scales, plugins) {
  const cv = document.createElement('canvas');
  cv.width = right - left + m.l + m.r;
  cv.height = bottom - top + m.t + m.b;
  cv.style.left = (left - m.l) + 'px';
  cv.style.top = (top - m.t) + 'px';
  page.appendChild(cv);
  return new Chart(cv, {
    data: { datasets },
    options: {
      responsive: false, animation: false, clip: false,
      layout: { padding: { top: m.t, right: m.r, left: 0, bottom: 0 } },
      scales,
      plugins: Object.assign({ legend: { display: false }, tooltip: { enabled: false } }, plugins || {})
    }
  });
}

// ---------- panel A charts
(function () {
  const cv = document.createElement('canvas');
  cv.width = 189; cv.height = 189;
  cv.style.left = '129px'; cv.style.top = '23px';
  page.appendChild(cv);
  // every stack is full height, cells past the end of a row stay transparent
  const sets = corrRows.map(r => ({
    data: colNames.map(() => 1),
    backgroundColor: colNames.map((c, i) => (i < r.length ? heat(r[i]) : 'transparent')),
    borderWidth: 0, barPercentage: 1, categoryPercentage: 1
  })).reverse();
  new Chart(cv, {
    type: 'bar',
    data: { labels: colNames, datasets: sets },
    options: {
      responsive: false, animation: false,
      scales: { x: { display: false, stacked: true }, y: { display: false, stacked: true, min: 0, max: 10 } },
      plugins: { legend: { display: false }, tooltip: { enabled: false } }
    }
  });

  plot(30, 23, 129, 212, { l: 0, r: 0, t: 0, b: 0 },
    dendroBranches.map(b => ({ type: 'line', data: toPoints(b), borderColor: '#2a2a2a', borderWidth: 1.1, pointRadius: 0, tension: 0, fill: false })),
    {
      x: { type: 'linear', display: false, reverse: true, min: 0, max: 99 },
      y: { type: 'linear', display: false, reverse: true, min: 0, max: 10 }
    });

  rowLabels.forEach((t, i) => {
    const xs = [325, 305.7, 289.3, 270.7, 252.3, 233.3, 213.7, 195, 176.7, 157.7];
    addText('l', xs[i], 32.8 + 18.87 * i, t, 8);
  });

  const cb = document.createElement('canvas');
  cb.width = 64; cb.height = 20;
  cb.style.left = '272px'; cb.style.top = '174px';
  page.appendChild(cb);
  new Chart(cb, {
    type: 'bar',
    data: {
      labels: colourbarSteps,
      datasets: [{ data: colourbarSteps.map(() => 1), backgroundColor: colourbarSteps.map(heat), barPercentage: 1, categoryPercentage: 1, borderWidth: 0 }]
    },
    options: {
      responsive: false, animation: false,
      layout: { padding: { left: 5, right: 5 } },
      scales: {
        y: { display: false, min: 0, max: 1 },
        x: {
          afterFit: s => { s.height = 12; },
          grid: { display: false, drawTicks: false, tickLength: 0 }, border: { display: false },
          ticks: {
            autoSkip: false, maxRotation: 0, padding: 1, color: '#333', font: { size: 7.5, family: FONT },
            callback: function (v) { const n = this.getLabelForValue(v); return n === .8 ? '0.8' : n === .9 ? '0.9' : n === 1 ? '1' : ''; }
          }
        }
      },
      plugins: { legend: { display: false }, tooltip: { enabled: false }, frame: { color: '#999', width: .8 } }
    }
  });
  addText('t', 303, 197, 'Pearson Correlation', 7.5, 'letter-spacing:-.2px;');
})();

// ---------- panel B charts
const volM = { l: 38, r: 8, t: 10, b: 18 };
plot(51, 270, 202, 407, volM, [
  dots(b1Black, BLACK, 1.15),
  ...b1BlackBands.map(b => band(b, BLACK, 3.5)),
  dots(b1Red, RED, 1.25),
  ...b1GreenBands.map(b => band(b, DKGREEN, 6)),
  ...b1LightBands.map(b => band(b, LTGREEN, 7)),
  dots(b1DarkGreen, DKGREEN, 1.2),
  dots(b1Olive, OLIVE, 1.2)
], {
  x: axis(-13.3, 13.1, volTicksX, volTicksX.map(String), 8.5, 18, 3, '#555'),
  y: axis(-.37, 10.3, volTicksY, volTickNames, 8, 38, 3, '#555')
}, { frame: { color: '#808080', width: 1.5 } });

plot(213, 270, 364, 407, volM, [
  dots(b2Black, BLACK, 1.2),
  ...b2BlackBands.map(b => band(b, BLACK, 3)),
  ...b2RedBig.map(b => band(b, RED, 14)),
  ...b2RedMid.map(b => band(b, RED, 7)),
  dots(b2Red, RED, 1.25),
  ...b2GreenBands.map(b => band(b, DKGREEN, 8)),
  ...b2LightBands.map(b => band(b, LTGREEN, 4)),
  dots(b2Light, LTGREEN, 1.2),
  dots(b2DarkGreen, DKGREEN, 1.2)
], {
  x: axis(-13.2, 13.2, volTicksX, volTicksX.map(String), 8.5, 18, 3, '#555'),
  y: axis(-.37, 10.3, volTicksY, null, 8, 38, 3, '#555')
}, { frame: { color: '#808080', width: 1.5 } });

// ---------- panel C chart
plot(65, 529, 217, 667, { l: 40, r: 8, t: 10, b: 16 }, [
  ...cBlackBands.map(b => band(b, BLACK, 3)),
  dots(cBlack, BLACK, 1.15),
  dots(cRed, '#d81e3a', 1.2)
], {
  x: axis(-6.49, 6.42, cTicksX, cTicksX.map(String), 8.5, 16, 2.5, '#555'),
  y: axis(-.32, 7.45, cTicksY, cTickNames, 8, 40, 2.5, '#555')
}, {
  frame: { color: '#555', width: 1.2 },
  pointNames: { names: cLabelNames, xs: cLabelX, ys: cLabelY }
});

// ---------- panel D charts
function medianSets(rows) {
  const sets = [];
  rows.forEach(r => {
    if (r[2] !== null) sets.push(band([r[0] - .42, r[2], r[0] + .42, r[2]], KOLINE, 3));
  });
  rows.forEach(r => {
    sets.push(band([r[0] - .42, r[1], r[0] + .42, r[1]], BLACK, 3));
  });
  sets.forEach(s => { s.borderCapStyle = 'butt'; });
  return sets;
}
function runSets(flat, colour) {
  const sets = [];
  for (let i = 0; i < flat.length; i += 2) {
    const s = band([flat[i], noCount, flat[i + 1], noCount], colour, 3.4);
    s.borderCapStyle = 'butt';
    sets.push(s);
  }
  return sets;
}
function stripPanel(left, top, m, sets, labelled) {
  plot(left, top, left + 155, top + 147, m, sets, {
    x: axis(.383, 3.61, dTicksX, dayNames, 8.5, 17, 3.5, '#555'),
    y: axis(-3.147, 1.147, dTicksY, labelled ? dTickNames : null, 8.5, 42, 3.5, '#555')
  }, { frame: { color: '#4a4a4a', width: 1.1 } });
}
const stripM = { l: 42, r: 6, t: 8, b: 17 };
stripPanel(326, 525, stripM, [
  rings(etnJ1, J1C), rings(etnKo, KOC),
  rings(noCountRow(etnJ1None), J1C), rings(noCountRow(etnKoNone), KOC),
  ...medianSets(etnMed)
], true);
stripPanel(501, 525, stripM, [
  rings(malrJ1, J1C), rings(malrKo, KOC),
  rings(noCountRow(malrJ1None), J1C), rings(noCountRow(malrKoNone), KOC),
  ...runSets(malrJ1Run, 'rgba(70,70,70,0.75)'),
  ...medianSets(malrMed)
], false);
stripPanel(327, 708, stripM, [
  rings(l1J1, J1C), rings(l1Ko, KOC),
  rings(noCountRow(l1J1None), J1C),
  ...runSets(l1KoNoneRun, 'rgba(170,60,75,0.8)'),
  ...runSets(l1J1NoneRun, 'rgba(90,90,90,0.9)'),
  ...medianSets(l1Med)
], true);
stripPanel(502, 708, stripM, [
  rings(iapJ1, J1C), rings(iapKo, KOC),
  rings(noCountRow(iapJ1None), J1C), rings(noCountRow(iapKoNone), KOC),
  ...runSets(iapJ1Run, BLACK),
  ...medianSets(iapMed)
], false);

// legend glyphs
plot(661, 825, 675, 855, { l: 0, r: 0, t: 0, b: 0 }, [
  { type: 'scatter', data: toPoints(legendJ1).map(p => ({ x: p.x, y: p.y + 11 })), pointRadius: 1.7, pointBackgroundColor: 'transparent', pointBorderColor: J1C, pointBorderWidth: .8, showLine: false },
  { type: 'scatter', data: toPoints(legendKo), pointRadius: 1.7, pointBackgroundColor: 'transparent', pointBorderColor: KOC, pointBorderWidth: .8, showLine: false }
], {
  x: { type: 'linear', display: false, min: 0, max: 11 },
  y: { type: 'linear', display: false, min: 0, max: 23 }
});

// ---------- page text
addText('l', 2, 6, 'A', 12, 'font-weight:bold;');
addText('l', 2, 244, 'B', 12, 'font-weight:bold;');
addText('l', 2, 502, 'C', 12, 'font-weight:bold;');
addText('l', 285, 502, 'D', 12, 'font-weight:bold;');

addText('t b', 113, 261, 'D0- <i>Eed</i>-KO/WT', 10.5);
addText('t b', 292, 261, 'D13 - <i>Eed</i>-KO/WT', 10.5);
addText('t', 132, 427, 'D0 - log2 (<i>Eed</i>-KO/WT)', 10);
addText('t', 294, 427, 'D13 - log2 (<i>Eed</i>-KO/WT)', 10);
addText('v', 23, 335, 'p-value', 10.5);

addText('t b', 141, 521, '<i>Eed</i>-KO - D13/D0', 10.5);
addText('t', 146, 688, '<i>Eed</i>-KO - log2 (D13/D0)', 10);
addText('v', 39, 591, 'p-value', 10.5);

addText('t b', 402, 519, 'EtnERV  (184  copies)', 9);
addText('t b', 590, 519, 'MalR-ORR1A  (538  copies)', 9);
addText('t b', 403, 702, 'L1Md_A  (2044  copies)', 9);
addText('t b', 578, 702, 'IAPEy  (122  copies)', 9);
addText('v', 301, 597, 'CPM', 10.5);
addText('v', 299, 780, 'CPM', 10.5);
addText('l', 677, 832, 'J1', 9.5);
addText('l', 677, 848, '<i>Eed</i>-KO', 9.5);
</script>
</body>
</html>
